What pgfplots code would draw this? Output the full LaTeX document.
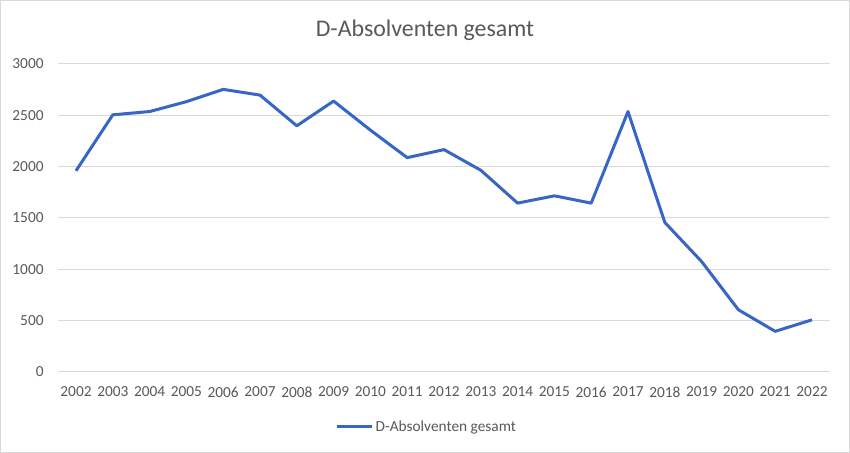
\documentclass[border=0pt]{standalone}
\usepackage{fontspec}
\setmainfont{Carlito}
\usepackage{pgfplots}
\pgfplotsset{compat=1.18}
\definecolor{linecol}{RGB}{56,102,196}
\definecolor{gridcol}{RGB}{217,217,217}
\definecolor{txtcol}{RGB}{89,89,89}
\begin{document}
\begin{tikzpicture}
\useasboundingbox (0pt,0pt) rectangle (637.5pt,339.75pt);
\fill[white] (0pt,0pt) rectangle (637.5pt,339.75pt);
\draw[gridcol,line width=0.75pt] (0.375pt,0.375pt) rectangle (637.125pt,339.375pt);
\node[text=txtcol,font=\fontsize{17.9}{21}\selectfont,anchor=base,inner sep=0pt] at (318.75pt,312.2pt) {D-Absolventen gesamt};
\begin{axis}[
  at={(43.2pt,60.75pt)}, anchor=south west,
  scale only axis,
  width=579.6pt, height=231pt,
  xmin=2001.5, xmax=2022.5,
  ymin=0, ymax=3000,
  xtick={2002,2003,...,2022},
  ytick={0,500,...,3000},
  axis line style={draw=none},
  major tick length=0pt,
  ymajorgrids,
  grid style={gridcol,line width=0.75pt},
  /pgf/number format/assume math mode=true,
  /pgf/number format/1000 sep={},
  ticklabel style={text=txtcol,font=\fontsize{11.5}{13}\selectfont},
  xticklabel style={yshift=-7.5pt},
  yticklabel style={xshift=-7pt},
  legend style={draw=none, at={(0.478,-0.178)}, anchor=center, font=\fontsize{11.5}{13}\selectfont, text=txtcol, inner sep=0pt},
  legend image code/.code={\draw[#1] (0pt,0pt) -- (26pt,0pt);},
  legend cell align=left,
]
\addplot[linecol, line width=2.25pt, line join=round] coordinates {
(2002,1960) (2003,2505) (2004,2537) (2005,2633) (2006,2753) (2007,2697)
(2008,2398) (2009,2639) (2010,2356) (2011,2088) (2012,2166) (2013,1965)
(2014,1645) (2015,1716) (2016,1645) (2017,2537) (2018,1457) (2019,1076)
(2020,606) (2021,396) (2022,508)
};
\addlegendentry{D-Absolventen gesamt}
\end{axis}
\end{tikzpicture}
\end{document}
